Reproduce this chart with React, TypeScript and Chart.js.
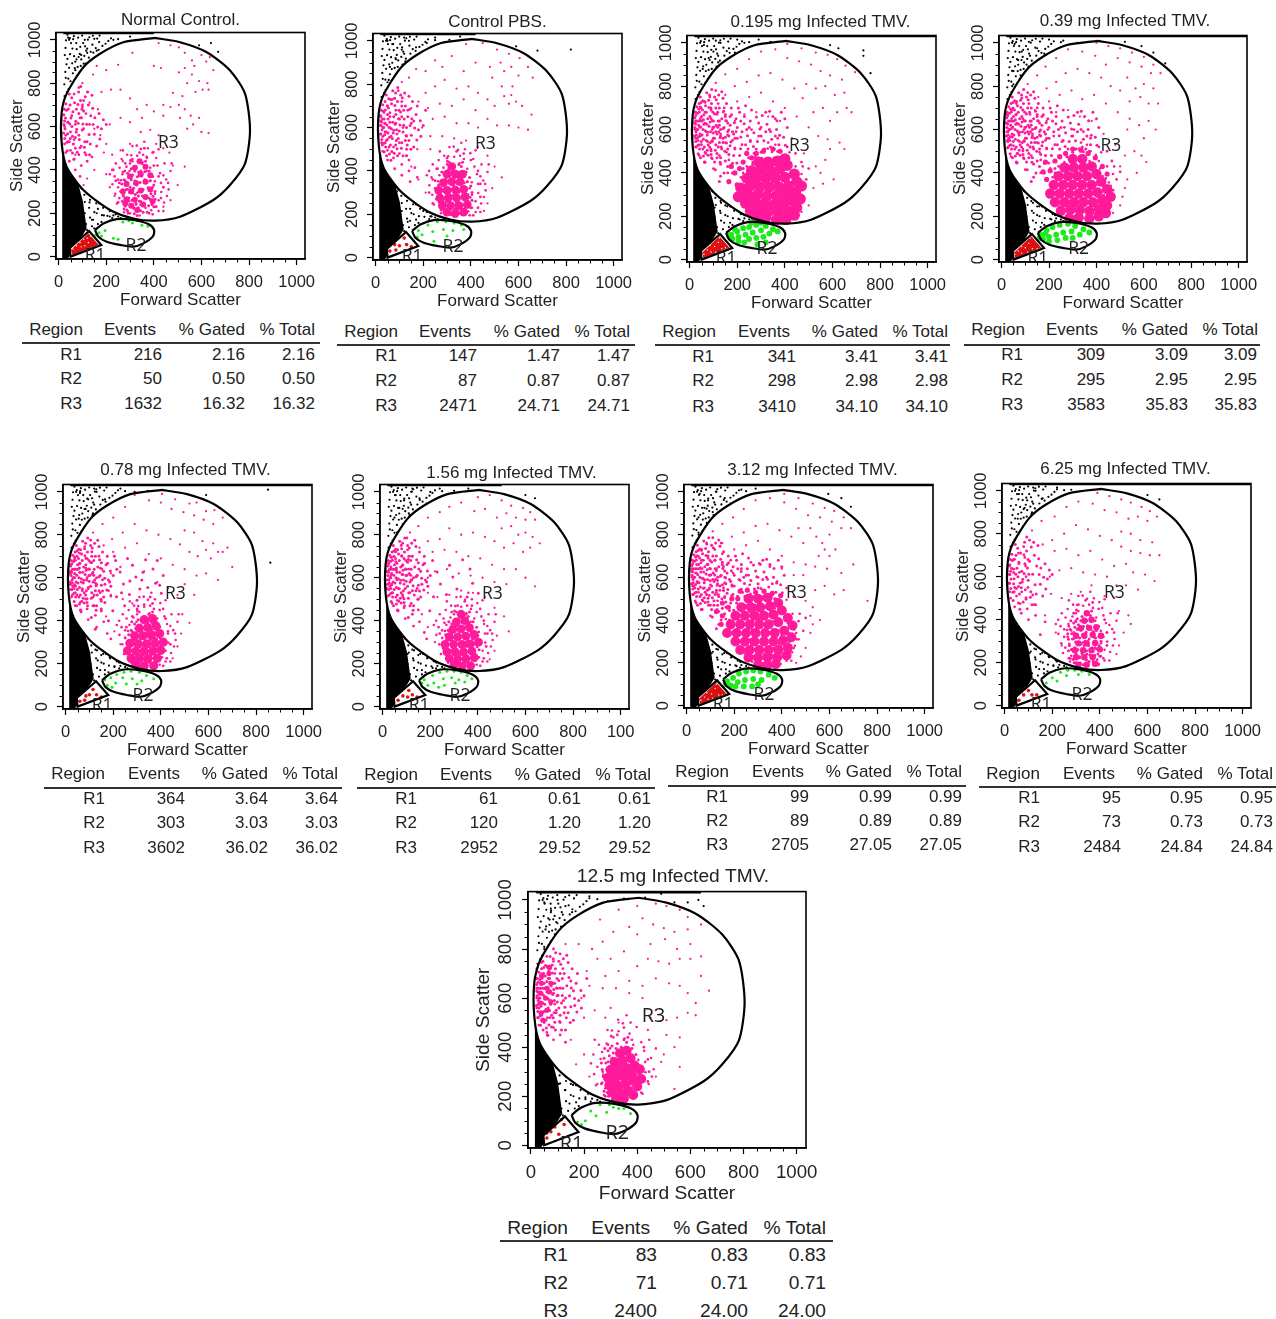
import React, { useEffect, useRef } from "react";
import { Chart, registerables } from "chart.js";
Chart.register(...registerables);

const FONT = '"Liberation Sans", Arial, sans-serif';
const TITLES = ["Normal Control.", "Control PBS.", "0.195 mg Infected TMV.", "0.39 mg Infected TMV.", "0.78 mg Infected TMV.", "1.56 mg Infected TMV.", "3.12 mg Infected TMV.", "6.25 mg Infected TMV.", "12.5 mg Infected TMV."];
const X_TICKS = [0, 200, 400, 600, 800, 1000];
const Y_TICKS = [0, 200, 400, 600, 800, 1000];
const MINOR_TICKS = [50, 100, 150, 250, 300, 350, 450, 500, 550, 650, 700, 750, 850, 900, 950];
const TABLE_HEADERS = ["Region", "Events", "% Gated", "% Total"];
const REGIONS = ["R1", "R2", "R3"];
const EVENTS = [[216, 50, 1632], [147, 87, 2471], [341, 298, 3410], [309, 295, 3583], [364, 303, 3602], [61, 120, 2952], [99, 89, 2705], [95, 73, 2484], [83, 71, 2400]];
const PERCENT = [["2.16", "0.50", "16.32"], ["1.47", "0.87", "24.71"], ["3.41", "2.98", "34.10"], ["3.09", "2.95", "35.83"], ["3.64", "3.03", "36.02"], ["0.61", "1.20", "29.52"], ["0.99", "0.89", "27.05"], ["0.95", "0.73", "24.84"], ["0.83", "0.71", "24.00"]];

// Gate outlines, [x, y] in scale units.
const GATE_R1 = [47, 40, 128, 118, 179, 54, 50, 0, 47, 40];
const GATE_R2 = [153, 123, 188, 153, 244, 173, 314, 169, 377, 150, 401, 123, 395, 92, 356, 61, 314, 46, 258, 54, 202, 69, 167, 92, 153, 123];
const GATE_R3 = [405, 1009, 510, 989, 622, 943, 720, 859, 783, 752, 804, 583, 783, 429, 720, 330, 650, 261, 510, 184, 405, 166, 314, 176, 216, 215, 104, 307, 34, 414, 13, 521, 13, 667, 34, 752, 104, 874, 174, 936, 272, 989, 405, 1009];
const REGION_LABEL_POS = [153, 3, 325, 49, 461, 525];
const BLACK_AREA = [15, -10, 15, 480, 40, 445, 60, 385, 85, 325, 102, 255, 118, 130, 62, 30, 38, -10, 15, -10];
const RED_AREA = [52, 32, 125, 108, 168, 55, 58, 8, 52, 32];

// Scatter clouds: hand-estimated samples of each dot cloud, far fewer than the events counted.
// Shared lists hold the populations that look alike across panels; each panel shows as many as its density calls for.
const BLACK_UPPER = [37,912,142,978,88,846,61,1003,171,931,24,795,113,891,53,768,129,1012,76,957,98,803,44,871,156,962,31,998,84,921,119,836,67,815,195,948,103,985,48,934,138,905,28,852,72,781,162,1006,91,968,57,892,108,926,35,759,146,941,80,875,64,1017,184,972,41,821,123,1001,95,910,52,985,178,904,26,930,134,864,70,899,209,995,86,792,47,1008,116,950,152,887,60,846,99,1020,33,887,127,918,74,985,168,954,42,773,105,858,89,935,58,960,144,1019,220,1007,77,833,37,1024,111,970,197,982,65,925,130,890,50,809,82,1010,156,910,29,963,93,880,120,940,44,1000,172,1020,68,870,100,780,55,725,40,700,25,740,250,1003,75,745,140,850,160,870,85,750,95,825,115,815,62,790,30,825];
const BLACK_LOWER = [112,402,75,438,148,352,205,228,96,315,132,262,182,191,64,395,240,204,120,348,158,246,105,198,270,190,88,372,141,295,195,262,78,281,225,178,167,305,110,252,132,180,90,220,150,205,62,460,118,305,175,268,205,188,100,160,140,140,120,122,85,150,70,130,165,150,250,185,295,183,187,225,128,225,152,275,108,285,72,340,100,410,135,330,160,200,215,210,180,160,145,170,115,150,95,125,75,105,55,340,50,380,40,440,32,480,60,505,230,190,260,178,170,245,155,320,125,375,90,440,28,540];
const PINK_LEFT = [47,612,128,563,22,655,81,702,164,598,35,528,96,641,58,478,143,684,27,590,112,738,70,549,188,631,41,681,90,502,55,733,133,520,25,626,76,588,152,641,38,567,105,672,64,449,173,543,30,705,118,611,84,760,49,545,140,745,21,570,99,584,60,668,125,700,36,489,160,510,72,625,110,530,45,750,87,540,29,640,135,650,56,600,180,590,93,785,23,610,115,470,67,710,150,565,40,530,78,482,200,610,52,640,102,612,33,675,122,760,85,660,62,520,145,610,26,545,92,720,48,700,170,660,74,575,108,505,38,620,130,470,58,555,98,680,24,680,82,615,155,720,44,580,120,640,68,490,190,560,31,600,105,750,54,690,140,540,76,650,42,510,88,590,210,680,63,730,115,580,28,520,95,550,50,660,130,600,36,640,72,770,160,630,84,520,46,470,110,700,22,630,66,595,125,540,40,720,100,640,56,510,148,500,30,560,80,735,175,700,60,625,118,680,34,600,92,470,52,575,135,775,70,680,44,640,105,560,26,665,86,635,150,670,62,450,98,610,38,695,78,530,122,590,48,725,165,570,28,575,90,690,58,645,112,620,74,505,35,550];
const PINK_LOW = [262,352,431,298,305,468,389,214,238,290,452,356,346,497,280,232,415,420,226,334,371,455,298,395,443,250,256,410,328,512,404,348,272,288,462,310,315,222,380,270,245,245,426,385,352,435,288,470,398,482,268,380,340,190,420,210,235,370,470,395,310,440,445,430,360,530,285,415,405,290,250,320,375,500,330,465,455,280,295,255,385,410,275,205,430,340,320,350,240,430,410,455,350,300,265,450,395,320,300,200,460,340,335,390,280,350,365,225,420,260,255,270,440,210,310,510,385,350,225,400,345,255,290,310,475,430,370,395,405,230,270,490,330,295,420,495,355,470,250,355,300,430,395,195,440,375,325,240,215,380,480,350];
const PINK_WIDE = [214,512,367,641,128,449,295,603,176,668,402,528,243,571,155,538,336,684,108,415,268,522,198,446,378,574,141,605,312,548,229,627,90,485,355,510,185,580,281,658,125,360,410,610,248,470,165,485,325,625,205,700,385,680,120,520,270,585,345,555,180,400,235,530,300,495,150,455,395,565,215,640,260,690,130,570,320,590,190,515,365,600,105,450,285,545,225,420,170,620,340,520,250,610,145,400,305,665,200,560,375,530,115,490,275,475,160,575,330,460,235,710,95,545,290,630,180,445,350,660,210,480,255,545,135,510,315,510,195,650,400,650,170,525,240,600,300,570,125,640,265,440,220,590,360,570,150,660,335,600,185,480,280,510,110,590,245,510,205,420,320,680,160,430,370,500,230,660,290,450,140,560,255,640];
const PINK_CORE_DOTS = [322,287,358,236,291,341,376,318,305,405,344,212,283,262,397,279,331,368,268,309,362,392,315,228,385,350,298,296,350,430,275,355,339,255,405,300,310,376,368,270,287,215,328,330,392,240,302,445,355,310,272,280,345,395,318,198,380,395,295,365,335,225,400,330,285,310,362,355,308,260,372,205,342,342,278,395,388,290,325,415,300,240,352,280,268,255,395,370,315,315,365,440,292,200,338,300,378,235,282,335,348,372,305,355,385,265,330,190,360,420,295,270,320,395,405,265,275,220,345,240,310,295,372,345,290,385,335,280,355,205,400,230,300,320,325,245,382,315,265,335,315,350,368,300];

const P1_BLACK = [120,960,95,930,135,945,160,950,185,925,75,910,105,890,70,860,60,800,90,830,55,740,65,720,230,1000,300,1015,345,1000,590,975,640,985,670,945,110,1000,150,1005,40,1010,170,990,110,420,60,430,45,400,130,380,85,350,150,320,120,290,180,260,165,220,200,235,240,195,260,230,290,185,140,170,190,190,110,200,130,250,150,130,215,185];
const P1_PINK = [420,985,470,975,505,965,530,940,560,905,600,930,635,920,620,900,650,860,570,880,530,870,505,850,560,840,590,810,540,800,625,800,605,770,630,770,575,760,520,740,480,755,505,700,470,690,440,700,530,680,555,650,590,640,510,640,565,610,600,575,630,570,540,590,400,880,430,870,310,940,250,885,200,860,160,880,145,840,100,800,120,760,180,760,220,770,260,770,300,730,330,680,370,700,400,670,440,650,350,640,300,620,260,640,215,610,175,560,200,520,190,480,225,470,260,490,270,440,300,520,345,575,385,585,420,560,410,520,440,500,465,480,480,420,530,415,500,330,470,260,440,230,215,320,235,280,200,380,150,400,120,360,105,330,165,680,130,710,95,640,150,590,70,470];
const P1_BAND = [25,600,40,620,55,650,75,680,100,700,30,560,50,575,70,610,90,640,115,660,25,520,45,530,65,540,85,560,105,590,130,610,30,480,50,490,70,500,95,510,120,530,45,440,65,450,85,470,110,480,70,400,95,420,120,440,140,460,90,370,100,690,65,750,85,780,105,720,260,300,240,350,270,390,230,400,250,250,290,210,380,200,410,230,430,270,440,320,420,370,400,420,370,460,340,480,310,450,360,500,395,480,255,340,280,430];
const P1_CORE = [330,215,305,235,355,240,285,265,320,262,365,275,270,300,305,300,345,305,385,310,285,335,325,340,365,345,300,370,345,380,385,375,320,410,365,415,340,440,280,245,395,255];
const P1_GREEN = [270,160,295,165,310,155,330,165,350,145,375,140,195,120,170,110,155,100,180,95,230,85,250,80];
const P1_RED = [60,35,75,50,90,65,105,80,120,85,95,45,125,65,135,95,110,50];
const P2_BLACK = [70,985,110,960,140,1000,170,970,195,945,85,915,125,905,60,880,95,860,55,820,75,780,45,760,250,1015,310,1005,355,1020,590,975,680,955,820,960,120,1015,215,990,50,1000,40,440,75,405,110,380,145,345,175,285,125,285,200,215,235,190,285,185,170,175,135,165,110,215,90,305,145,225];
const P2_PINK = [380,985,450,990,510,960,560,940,605,920,570,880,525,900,640,880,660,830,600,840,540,860,480,880,420,900,370,860,320,930,280,880,250,910,210,860,170,870,140,830,110,810,490,830,530,790,575,790,540,745,570,750,590,720,560,710,615,700,655,660,500,700,470,730,430,760,390,790,340,780,290,820,250,790,210,760,180,720,150,690,220,690,270,710,320,700,370,730,420,680,470,640,510,610,560,610,600,600,640,590,430,600,390,620,340,620,290,650,240,640,195,600,230,560,280,560,330,550,380,540,430,510,470,470,500,420,530,370,490,320,470,250,455,215,210,300,180,360,150,420,130,470,175,500,230,500];
const P2_BAND = [22,650,35,670,50,700,70,730,95,770,22,610,40,620,60,650,85,680,110,720,22,570,40,580,60,600,85,620,110,650,135,680,25,530,45,540,65,560,90,570,115,600,150,620,30,490,50,495,75,510,100,530,130,560,50,450,75,460,100,480,130,500,80,410,110,430,140,450,110,380,140,400,165,415,145,350,175,370,240,250,225,300,240,360,260,410,300,460,340,490,370,480,400,450,430,400,440,340,440,280,430,230,410,195];
const P2_CORE = [300,210,335,205,370,210,280,240,315,240,350,240,385,245,270,275,305,275,340,275,375,280,265,310,300,310,335,312,370,315,285,345,320,350,355,350,300,385,335,385,365,385,320,420];
const P2_GREEN = [220,150,260,165,295,165,330,160,360,150,240,120,285,130,325,125,195,105,180,125,175,95,245,75,300,100,370,130];
const P2_RED = [60,30,85,35,80,60,100,55,120,90,130,60,150,50];
const P3_BLACK = [60,990,100,960,130,1000,165,975,190,955,80,930,120,910,55,880,95,860,70,800,45,760,40,720,230,1000,290,1015,340,1005,590,990,625,975,730,965,730,940,700,880,760,860,110,1010,200,1015,25,560,30,500,60,455,90,410,125,370,160,300,130,270,190,235,230,205,260,250,285,195,170,170,130,215,105,240,150,250,210,185];
const P3_PINK = [410,995,470,975,530,955,580,945,620,925,655,895,695,865,640,830,590,850,550,870,510,900,460,915,410,930,360,970,300,960,250,925,200,880,150,855,110,815,490,810,530,790,570,800,610,760,650,770,660,700,620,680,590,640,560,700,520,680,475,745,440,790,390,830,340,860,290,850,240,820,190,800,150,760,200,730,250,750,300,770,350,730,400,700,450,660,500,610,540,570,580,555,630,540,650,510,680,680,590,510,570,460,550,400,560,350,605,370,520,330,500,250,470,220,530,430,480,490,430,560,380,640,330,660,280,680,230,670,190,640,140,680];
const P3_BAND = [25,680,45,705,65,725,85,750,110,780,25,640,45,650,65,680,90,700,120,720,22,600,42,610,65,630,90,650,115,670,145,700,25,560,45,570,70,590,95,600,125,620,155,640,25,520,50,530,75,545,100,560,130,580,160,590,195,590,40,480,65,495,90,510,120,520,150,540,180,550,215,565,260,600,300,610,340,590,360,650,65,450,95,465,125,480,155,495,190,510,220,530,255,550,290,570,330,540,370,560,410,520,445,490,470,450,100,420,130,440,165,460,130,385,160,400,450,280,465,320,490,370,500,420];
const P3_CORE = [280,195,320,195,365,185,405,185,440,205,255,225,295,230,335,225,375,220,415,225,450,240,235,260,275,265,315,260,355,255,395,260,435,270,465,280,205,290,245,300,285,300,325,295,365,295,405,300,445,310,470,340,215,330,255,340,295,335,335,335,375,335,415,340,450,360,240,375,280,375,320,375,360,375,400,380,440,395,260,410,300,415,340,410,380,420,410,435,290,450,330,450,370,455,400,465];
const P3_CORE_SMALL = [190,400,165,360,200,345,175,430,210,420,225,450,260,470,240,490,280,490,310,500,350,510,380,500];
const P3_GREEN = [175,115,200,130,225,145,250,150,280,160,320,155,350,140,180,95,205,105,235,115,265,125,300,135,335,120,205,85,230,80,250,95,280,100,310,105,165,110,190,140,260,170,300,170,370,130,285,70,320,80];
const P3_RED = [60,25,75,45,90,35,105,60,120,80,135,50,150,55,85,65,110,35,60,50,125,100];
const P4_BLACK = [55,995,85,960,115,1005,150,975,180,950,70,920,105,900,50,870,80,850,45,800,65,770,200,1015,260,1010,320,1000,520,1005,590,985,640,955,690,905,30,470,60,430,90,400,120,365,155,310,125,270,190,235,225,205,255,245,280,190,170,170,135,215,100,240,150,245,210,185];
const P4_PINK = [400,1000,450,985,500,975,550,955,600,935,640,900,670,860,630,860,590,890,540,910,490,930,440,900,395,940,340,960,280,970,230,930,185,890,150,850,110,810,530,840,565,790,600,810,640,790,660,720,620,720,585,750,540,730,500,780,460,800,420,840,370,860,320,880,270,860,230,820,190,790,155,750,200,730,245,760,295,780,340,740,390,760,440,720,490,680,540,650,530,600,580,620,620,640,650,600,600,560,560,500,590,480,570,400,530,370,520,330,510,290,500,250,470,215,500,430,520,480,480,530,430,580,380,640,330,660,280,690,230,680,190,640,140,690,610,450];
const P4_BAND = [22,670,42,690,62,720,85,745,110,770,22,630,42,650,62,670,90,690,115,720,22,590,42,605,65,630,90,650,120,670,150,700,25,550,45,565,70,585,95,600,125,620,155,640,25,515,50,525,75,545,100,560,130,580,160,590,195,600,40,475,65,490,90,510,120,520,150,540,185,550,220,570,265,610,305,600,345,590,65,445,95,465,125,480,160,495,190,510,225,530,260,550,295,570,335,540,375,560,410,520,445,500,465,455,100,415,135,440,165,460,135,380,165,400,460,280,470,320,485,370,500,405];
const P4_CORE = [285,190,325,195,370,190,410,200,440,215,250,225,290,230,330,230,370,225,410,235,445,250,225,265,265,265,305,265,345,265,385,265,425,275,460,290,205,305,245,305,285,305,325,305,365,305,405,310,445,325,220,345,260,345,300,345,340,345,380,345,420,360,240,385,280,385,320,385,360,385,400,395,265,425,305,425,345,425,380,430,300,465,340,465];
const P4_CORE_SMALL = [190,370,175,405,205,410,185,450,225,455,245,475,270,490,300,510,335,505,365,490,395,470,425,430,445,395];
const P4_GREEN = [165,115,190,135,215,150,245,160,280,165,310,155,345,140,175,95,200,105,230,115,260,125,295,130,330,115,200,85,235,90,270,100,300,100,160,100,185,120,370,125];
const P4_RED = [55,25,70,40,85,30,100,55,115,75,130,50,150,50,85,60,110,35,60,55,120,100];
const P5_BLACK = [60,995,95,965,130,1000,165,965,190,940,80,920,115,900,55,875,90,850,60,800,45,760,85,790,230,1015,290,1000,345,1005,590,985,850,1010,860,670,120,1015,30,450,60,420,95,395,125,355,155,300,125,265,185,230,225,205,260,240,280,190,165,170,135,215,100,245,150,240,205,185];
const P5_PINK = [405,990,460,965,520,945,550,950,590,910,625,915,660,880,620,850,580,870,540,890,495,905,445,920,400,950,350,960,290,985,250,930,200,880,155,850,115,810,500,820,540,810,575,770,620,760,660,720,700,650,680,740,640,720,610,690,590,730,555,700,520,720,480,755,440,780,390,800,340,820,290,850,240,810,195,780,160,750,200,720,250,740,300,760,350,710,400,690,450,660,500,640,550,610,590,620,640,590,500,570,540,520,470,520,430,550,385,580,330,630,280,660,230,650,190,620,190,520,240,500,280,480,490,430,520,390,485,340,470,280,450,225,230,290,205,350,170,420];
const P5_BAND = [20,660,38,685,58,715,80,745,105,775,20,620,38,640,58,665,85,690,110,720,20,580,38,600,60,625,85,645,110,670,140,700,22,545,42,560,65,580,90,600,115,625,145,645,25,510,48,520,70,540,95,555,125,575,155,590,40,470,62,485,85,500,115,510,145,530,180,540,65,440,90,455,120,470,150,490,95,405,125,425,150,445,130,370,160,395,175,340,190,315,260,270,250,320,255,370,280,420,300,455,330,475,365,480,395,450,420,410,430,350,440,290,425,225,410,190];
const P5_CORE = [295,195,330,190,370,190,275,225,310,225,345,222,385,225,260,260,295,258,330,258,365,258,400,262,270,295,305,292,340,292,375,295,410,300,290,330,325,330,360,332,395,340,310,365,345,368,380,375,330,405,365,410];
const P5_GREEN = [165,125,190,135,215,150,245,160,275,165,310,160,340,145,370,130,240,135,280,130,320,120,210,110,255,105,300,105,175,100,195,90];
const P5_RED = [60,25,80,30,100,55,85,50,130,55,150,45,115,80];
const P6_BLACK = [55,985,90,960,120,1000,155,970,185,945,70,925,110,900,50,880,85,850,60,810,45,760,240,1015,300,1005,360,1015,600,985,640,970,125,1015,200,1000,30,440,65,410,100,380,130,350,160,295,125,265,190,230,225,205,255,245,275,190,165,170,130,215,105,245,150,240,210,180];
const P6_PINK = [400,975,450,985,500,960,540,935,590,925,620,905,640,870,600,870,560,880,520,900,480,880,430,920,385,910,330,950,280,930,240,905,190,880,150,840,115,810,500,830,540,840,570,800,600,810,630,790,660,760,620,740,590,720,550,760,510,740,470,770,430,790,380,810,330,800,280,830,240,780,190,770,155,740,210,720,260,730,310,720,360,700,410,690,460,660,510,640,560,640,600,600,640,560,520,570,470,580,420,600,370,610,320,620,270,640,220,630,190,600,190,530,230,510,280,520,330,540,380,530,430,510,470,460,510,420,530,350,480,330,470,260,450,220,220,300,190,370,165,430,120,700];
const P6_BAND = [18,670,35,695,55,720,78,750,102,785,18,630,35,650,55,675,80,700,105,730,18,590,35,610,58,635,82,655,108,685,18,550,38,570,60,590,85,615,110,640,22,515,42,530,65,550,90,570,120,590,145,610,40,480,62,495,85,510,115,530,145,550,65,445,90,460,120,480,150,500,95,410,125,430,150,450,130,375,155,395,175,345,185,315,255,280,240,340,260,390,290,440,315,470,345,490,375,470,395,440,425,400,440,340,435,280,425,225,410,190];
const P6_CORE = [300,195,335,190,370,190,280,225,315,222,350,222,385,228,270,255,305,255,340,255,375,258,262,290,298,290,333,290,368,292,403,300,280,325,315,325,350,328,385,335,295,360,330,362,365,368,310,395,345,400,330,430];
const P6_GREEN = [175,125,210,145,240,160,270,165,300,165,330,160,355,145,375,130,255,130,290,135,320,125,215,110,260,100,305,110,190,100,165,110,345,115,235,90];
const P6_RED = [65,30,85,50,105,45,125,55,145,45,110,75];
const P7_BLACK = [55,990,90,960,125,1000,160,970,185,945,75,925,110,905,50,880,85,855,50,800,70,770,230,1010,290,1015,340,1000,595,990,650,970,690,930,30,450,60,420,95,395,125,355,155,300,125,265,190,230,225,205,260,245,280,190,165,170,130,215,105,245,150,240,210,185];
const P7_PINK = [410,990,470,970,530,945,580,925,620,910,660,880,690,830,650,830,610,860,560,880,510,890,460,920,410,950,350,970,290,960,240,920,195,880,150,850,110,815,470,830,520,830,545,790,570,760,600,800,580,730,555,700,600,700,625,730,540,650,590,640,650,620,700,660,660,540,620,520,580,560,540,540,490,760,440,790,390,820,340,850,290,840,240,810,190,790,150,760,200,730,250,750,300,770,350,730,400,700,450,670,500,660,490,610,450,610,400,640,500,490,530,460,560,400,530,380,520,340,500,270,480,230,460,200,760,490,520,420];
const P7_BAND = [22,680,42,700,62,725,85,755,110,785,22,640,42,660,62,680,90,700,118,730,145,760,22,600,42,620,65,640,90,660,120,680,150,710,25,560,45,575,70,595,95,610,125,630,155,650,185,680,25,520,50,530,75,550,100,565,130,585,160,600,195,620,230,640,270,670,310,660,350,650,40,480,65,495,95,515,125,530,155,550,190,565,225,585,260,610,300,600,340,590,380,580,420,550,65,450,100,470,130,490,160,505,195,520,230,545,265,565,300,550,450,510,100,420,135,440,165,460,135,380,165,405,450,270,470,310,490,350,500,410];
const P7_CORE = [300,190,340,190,375,195,260,225,300,225,340,225,380,225,420,235,225,260,265,260,305,260,345,260,385,260,425,270,205,300,245,300,285,300,325,300,365,300,405,305,440,320,170,340,210,340,250,340,290,340,330,340,370,340,410,350,445,375,185,380,225,380,265,380,305,380,345,380,385,390,425,410,205,420,245,420,285,420,325,420,365,425,400,445,230,460,270,460,310,460,350,465,385,480,260,500,300,500,340,505];
const P7_CORE_SMALL = [150,420,175,460,150,480,190,500,215,500,225,535,255,540,290,530,325,535,360,525,395,515,125,440,145,380];
const P7_GREEN = [170,115,195,130,220,150,250,160,280,165,310,160,345,145,370,130,185,95,215,110,245,120,280,125,315,120,205,90,240,90,275,90,165,100,300,100];
const P7_RED = [60,25,75,40,90,30,105,55,120,80,135,50,150,50,85,60,110,35,60,50,125,100];
const P8_BLACK = [60,985,95,955,130,1000,160,965,190,940,80,915,115,900,55,870,90,845,60,800,45,760,220,1015,280,1005,340,1000,600,980,650,960,120,1015,30,440,60,420,95,390,125,350,155,295,125,265,185,230,220,205,255,240,280,190,165,170,130,215,105,245,150,240,205,185];
const P8_PINK = [390,990,440,975,490,960,530,945,575,925,610,905,640,880,600,860,560,880,520,870,470,900,420,910,370,940,310,950,260,925,210,880,155,860,115,815,490,810,530,800,570,770,620,760,650,700,610,700,570,710,530,720,490,740,450,770,400,790,350,820,300,840,250,800,200,770,160,750,210,720,260,730,310,700,360,720,410,680,460,650,510,660,540,620,590,610,630,580,560,540,510,560,470,560,430,600,380,610,330,620,280,640,230,630,190,600,195,520,240,500,280,520,320,530,365,560,420,510,460,500,480,440,520,420,500,340,480,280,470,240,240,280,215,340,170,420,530,380];
const P8_BAND = [20,650,38,680,58,710,80,740,105,770,20,610,38,635,60,660,85,690,20,570,40,590,62,620,88,650,22,530,42,550,65,570,90,600,25,500,50,510,72,530,98,550,42,460,65,475,90,495,118,515,70,430,95,450,125,470,100,400,130,420,150,330,170,390,280,260,265,320,270,370,290,430,310,470,340,490,370,480,395,450,420,400,430,340,430,280,415,220,395,190,300,390,270,220,415,320];
const P8_CORE = [310,190,345,190,380,195,300,225,335,225,370,225,295,258,330,258,365,258,400,262,310,290,345,290,380,292,300,325,335,325,370,330,405,325,320,360,355,362,385,365,335,395,365,400,345,430];
const P8_GREEN = [200,130,235,155,265,165,295,165,325,160,355,145,310,145,260,140,220,115,175,105];
const P8_RED = [60,25,80,50,100,70,115,50,135,50];
const P9_BLACK = [50,990,75,965,100,1000,130,975,155,950,175,925,70,920,100,905,55,880,90,860,125,880,150,860,50,800,75,830,100,800,60,760,85,745,45,720,75,950,220,1015,290,995,350,1005,430,1010,490,1025,540,990,590,990,630,1000,650,975,40,460,75,440,105,400,130,370,165,310,130,280,190,240,225,210,260,260,285,200,170,175,130,225,105,250,150,250,205,195,120,330,100,180];
const P9_PINK = [260,920,330,960,400,975,470,985,510,975,560,960,590,930,640,900,590,880,540,870,500,885,460,900,420,925,370,890,310,870,270,830,230,800,180,820,130,820,400,860,450,820,505,840,550,800,600,820,640,770,600,760,560,760,520,740,480,750,440,760,400,730,350,790,300,760,250,760,210,710,280,690,330,710,370,670,420,650,470,680,520,660,560,650,590,620,640,690,670,630,620,580,590,540,620,530,550,520,510,510,470,550,420,600,370,620,320,640,270,640,220,650,190,600,200,520,240,550,280,520,330,500,300,560,450,520,440,470,510,450,560,440,540,400,500,370,490,340,560,320,470,280,540,230,220,280,250,250,200,370,170,330,150,430,290,230];
const P9_BAND = [22,720,40,745,60,770,85,800,22,680,42,700,62,725,85,750,110,780,22,640,42,660,65,680,90,700,120,720,22,600,42,620,65,640,90,660,22,560,42,580,62,600,85,620,110,640,25,520,45,540,65,560,90,575,30,490,50,500,72,520,95,540,60,460,85,480,110,500,85,430,110,450,130,420,350,480,325,450,380,430,340,400,290,410,425,400,440,350,445,300,440,260,415,215,385,190,345,185,280,200,265,250,270,300];
const P9_CORE = [320,190,350,190,385,205,305,215,335,215,368,220,400,240,295,245,325,245,355,248,385,262,415,270,290,275,320,278,350,280,380,290,410,310,300,308,330,310,360,315,390,325,315,340,345,345,375,355,335,375,360,385];
const P9_BAND_CORE = [40,690,68,700,40,660,75,660,35,620,70,625,35,580,75,585,60,550,38,540,70,725,60,640,55,600,45,510];
const P9_GREEN = [225,140,260,165,295,165,310,155,330,150,350,150,375,130,205,100,190,85,245,120,175,95,285,135];
const P9_RED = [60,30,60,50,75,55,90,75,105,45,115,105,125,85];
const TOP_EDGE_ENDS = [400, 420, 1035, 1035, 1035, 500, 1035, 1035, 640];
const P6_X_LABELS = ["0", "200", "400", "600", "800", "100"];
const DEFAULT_X_LABELS = ["0", "200", "400", "600", "800", "1000"];
// How many pairs of each shared list a panel shows: black upper, black lower, pink left, pink low, pink wide, core dots.
const SHARED_COUNTS = [[85, 60, 70, 75, 0, 70], [85, 60, 110, 75, 0, 70], [85, 60, 150, 75, 95, 0], [85, 60, 150, 75, 95, 0], [85, 60, 130, 75, 40, 70], [85, 60, 130, 75, 20, 70], [85, 60, 150, 75, 95, 40], [85, 60, 70, 75, 0, 70], [85, 60, 125, 45, 0, 70]];

const xy = (a: number[]) => { const o: { x: number; y: number }[] = []; for (let i = 0; i < a.length; i += 2) o.push({ x: a[i], y: a[i + 1] }); return o; };

type P = { l: number; t: number; w: number; h: number; f: number; dx: number; gap: number; coreR: number; sets: number[][]; heads: number[]; vals: number[]; rule: number[]; rows: number[]; regionRight: number };
const EMPTY: number[] = [];
const LAYOUT: P[] = [
  { l: 56, t: 32, w: 249, h: 227, f: 1, dx: 0, gap: 12, coreR: 3, sets: [P1_BLACK, P1_PINK, P1_BAND, P1_CORE, EMPTY, P1_GREEN, P1_RED], heads: [83, 156, 245, 315], vals: [162, 245, 315], rule: [22, 320, 343], rows: [329, 354, 378, 403], regionRight: 82 },
  { l: 373, t: 33, w: 249, h: 227, f: 1, dx: 0, gap: 11, coreR: 4.4, sets: [P2_BLACK, P2_PINK, P2_BAND, P2_CORE, EMPTY, P2_GREEN, P2_RED], heads: [398, 471, 560, 630], vals: [477, 560, 630], rule: [337, 635, 345], rows: [331, 355, 380, 405], regionRight: 397 },
  { l: 687, t: 35, w: 249, h: 227, f: 1, dx: 9, gap: 13, coreR: 5.6, sets: [P3_BLACK, P3_PINK, P3_BAND, P3_CORE, P3_CORE_SMALL, P3_GREEN, P3_RED], heads: [716, 790, 878, 948], vals: [796, 878, 948], rule: [655, 950, 345], rows: [331, 356, 380, 406], regionRight: 714 },
  { l: 999, t: 35, w: 248, h: 227, f: 1, dx: 2, gap: 14, coreR: 5.2, sets: [P4_BLACK, P4_PINK, P4_BAND, P4_CORE, P4_CORE_SMALL, P4_GREEN, P4_RED], heads: [1025, 1098, 1188, 1258], vals: [1105, 1188, 1257], rule: [964, 1260, 345], rows: [329, 354, 379, 404], regionRight: 1023 },
  { l: 63, t: 484, w: 249, h: 225, f: 1, dx: -2, gap: 14, coreR: 4.6, sets: [P5_BLACK, P5_PINK, P5_BAND, P5_CORE, EMPTY, P5_GREEN, P5_RED], heads: [105, 180, 268, 338], vals: [185, 268, 338], rule: [44, 342, 788], rows: [773, 798, 822, 847], regionRight: 105 },
  { l: 380, t: 484, w: 249, h: 225, f: 1, dx: 7, gap: 11, coreR: 4.4, sets: [P6_BLACK, P6_PINK, P6_BAND, P6_CORE, EMPTY, P6_GREEN, P6_RED], heads: [418, 492, 581, 651], vals: [498, 581, 651], rule: [357, 655, 788], rows: [774, 798, 822, 847], regionRight: 417 },
  { l: 684, t: 484, w: 249, h: 224, f: 1, dx: 4, gap: 14, coreR: 5, sets: [P7_BLACK, P7_PINK, P7_BAND, P7_CORE, P7_CORE_SMALL, P7_GREEN, P7_RED], heads: [729, 804, 892, 962], vals: [809, 892, 962], rule: [668, 966, 786], rows: [771, 796, 820, 844], regionRight: 728 },
  { l: 1002, t: 483, w: 249, h: 225, f: 1, dx: -1, gap: 14, coreR: 3.2, sets: [P8_BLACK, P8_PINK, P8_BAND, P8_CORE, EMPTY, P8_GREEN, P8_RED], heads: [1040, 1115, 1203, 1273], vals: [1121, 1203, 1273], rule: [979, 1276, 787], rows: [773, 797, 821, 846], regionRight: 1040 },
  { l: 528, t: 892, w: 278, h: 257, f: 1.13, dx: 6, gap: 15, coreR: 5, sets: [P9_BLACK, P9_PINK, P9_BAND, P9_CORE, P9_BAND_CORE, P9_GREEN, P9_RED], heads: [568, 650, 748, 826], vals: [657, 748, 826], rule: [500, 833, 1241], rows: [1227, 1254, 1282, 1310], regionRight: 568 },
];

const PINK = "#ff1a9c";
const scatterSet = (label: string, data: number[], color: string, r: number, order: number) => ({ type: "scatter", label, data: xy(data), backgroundColor: color, borderWidth: 0, pointRadius: r, pointHoverRadius: r, showLine: false, order });
const gateSet = (label: string, data: number[], order: number, tension: number) => ({ type: "scatter", label, data: xy(data), showLine: true, fill: false, borderColor: "#000", borderWidth: 2.2, tension, pointRadius: 0, order });
const areaSet = (label: string, data: number[], color: string, order: number, tension: number) => ({ type: "scatter", label, data: xy(data), showLine: true, fill: "shape", backgroundColor: color, borderWidth: 0, tension, pointRadius: 0, order });

function Panel({ index }: { index: number }) {
  const ref = useRef<HTMLCanvasElement>(null);
  const p = LAYOUT[index];
  const ML = Math.round(60 * p.f);
  const MR = ML + 2 * p.dx;
  const XH = Math.round(55 * p.f);
  const titleSize = 17 * p.f;
  const tickSize = 16.5 * p.f;
  const TH = titleSize / 2 + p.gap;
  useEffect(() => {
    const [black, pink, band, core, coreSmall, green, red] = p.sets;
    const counts = SHARED_COUNTS[index];
    const labels = index === 5 ? P6_X_LABELS : DEFAULT_X_LABELS;
    const denseRed = index === 0 || index === 2 || index === 3 || index === 6;
    const denseGreen = index === 2 || index === 3 || index === 6;
    const plugin = {
      id: "panelDecor",
      afterDatasetsDraw(chart: any) {
        const { ctx, chartArea: a, scales } = chart;
        ctx.save();
        ctx.beginPath(); ctx.rect(a.left, a.top, a.width, a.height); ctx.clip();
        ctx.fillStyle = "#222";
        ctx.font = `${17.5 * p.f}px "Open Sans", sans-serif`;
        ctx.textAlign = "center"; ctx.textBaseline = "middle";
        REGIONS.forEach((name, i) => ctx.fillText(name, scales.x.getPixelForValue(REGION_LABEL_POS[i * 2]), scales.y.getPixelForValue(REGION_LABEL_POS[i * 2 + 1])));
        ctx.restore();
        ctx.save();
        ctx.strokeStyle = "#000"; ctx.lineWidth = 1.6;
        ctx.strokeRect(a.left, a.top, a.width, a.height);
        ctx.lineWidth = 1; ctx.beginPath();
        MINOR_TICKS.forEach((v) => {
          const px = Math.round(scales.x.getPixelForValue(v)) + 0.5;
          ctx.moveTo(px, a.bottom); ctx.lineTo(px, a.bottom + 3.5);
          const py = Math.round(scales.y.getPixelForValue(v)) + 0.5;
          ctx.moveTo(a.left, py); ctx.lineTo(a.left - 3.5, py);
        });
        ctx.stroke();
        ctx.restore();
      },
    };
    const chart = new Chart(ref.current as HTMLCanvasElement, {
      type: "scatter",
      data: {
        datasets: [
          gateSet("R1", GATE_R1, 0, 0), gateSet("R2", GATE_R2, 0, 0.3), gateSet("R3", GATE_R3, 0, 0.25),
          gateSet("Top edge", [20, 1031, TOP_EDGE_ENDS[index], 1031], 0, 0),
          scatterSet("R1 events", red, denseRed ? "#fff" : "#e01212", denseRed ? 0.7 : 1.8, 1),
          areaSet("R1 dense", denseRed ? RED_AREA : [], "#dc1010", 2, 0),
          scatterSet("R2 events", green, "#1fe81f", denseGreen ? 2.9 : 1.5, 2),
          scatterSet("R3 dense", core, PINK, p.coreR, 3),
          scatterSet("R3 dense edge", coreSmall, PINK, 2.6, 3),
          scatterSet("R3 core dots", PINK_CORE_DOTS.slice(0, counts[5] * 2), PINK, 1.5, 4),
          scatterSet("R3 band", band, PINK, 1.4, 4),
          scatterSet("R3 sparse", pink, PINK, 1.15, 4),
          scatterSet("R3 left", PINK_LEFT.slice(0, counts[2] * 2), PINK, 1.5, 4),
          scatterSet("R3 low", PINK_LOW.slice(0, counts[3] * 2), PINK, 1.3, 4),
          scatterSet("R3 wide", PINK_WIDE.slice(0, counts[4] * 2), PINK, 1.5, 4),
          areaSet("R1 fill", GATE_R1, "#fff", 5, 0), areaSet("R2 fill", GATE_R2, "#fff", 5, 0.3), areaSet("R3 fill", GATE_R3, "#fff", 5, 0.25),
          areaSet("Column", BLACK_AREA, "#000", 6, 0),
          scatterSet("Other events", black, "#000", 1.1, 6),
          scatterSet("Upper events", BLACK_UPPER.slice(0, counts[0] * 2), "#000", 1.1, 6),
          scatterSet("Lower events", BLACK_LOWER.slice(0, counts[1] * 2), "#000", 1.1, 6),
        ] as any,
      },
      options: {
        animation: false, responsive: false, events: [],
        layout: { padding: 0 },
        plugins: {
          legend: { display: false }, tooltip: { enabled: false },
          title: { display: true, text: TITLES[index], color: "#222", font: { family: FONT, size: titleSize, weight: "normal", lineHeight: 1 }, padding: { top: 0, bottom: p.gap - titleSize / 2 } },
        },
        scales: {
          x: {
            type: "linear", min: -11, max: 1035,
            afterBuildTicks: (s: any) => { s.ticks = X_TICKS.map((value) => ({ value })); },
            afterFit: (s: any) => { s.height = XH; },
            ticks: { autoSkip: false, maxRotation: 0, minRotation: 0, color: "#222", padding: 9.5, font: { family: FONT, size: tickSize, lineHeight: 1 }, callback: (v: any) => labels[X_TICKS.indexOf(v)] ?? "" },
            grid: { drawOnChartArea: false, drawTicks: true, tickLength: 6, tickColor: "#000", tickWidth: 1.2 },
            border: { display: true, color: "#000", width: 1.4 },
            title: { display: true, text: "Forward Scatter", color: "#222", font: { family: FONT, size: titleSize, lineHeight: 1 }, padding: { top: 0, bottom: XH - 40 * p.f - titleSize / 2 - 1 } },
          },
          y: {
            type: "linear", min: -11, max: 1034,
            afterBuildTicks: (s: any) => { s.ticks = Y_TICKS.map((value) => ({ value })); },
            afterFit: (s: any) => { s.width = ML; },
            ticks: { autoSkip: false, minRotation: 90, maxRotation: 90, crossAlign: "center", color: "#222", padding: -4 * p.f, font: { family: FONT, size: tickSize, lineHeight: 1 }, callback: (v: any) => String(v) },
            grid: { drawOnChartArea: false, drawTicks: true, tickLength: 6, tickColor: "#000", tickWidth: 1.2 },
            border: { display: true, color: "#000", width: 1.4 },
            title: { display: true, text: "Side Scatter", color: "#222", font: { family: FONT, size: titleSize, lineHeight: 1 }, padding: { top: ML - 39 * p.f - titleSize / 2, bottom: 0 } },
          },
          spacer: {
            type: "linear", position: "right", display: true,
            afterFit: (s: any) => { s.width = MR; },
            ticks: { display: false }, grid: { display: false }, border: { display: false },
          },
        },
      } as any,
      plugins: [plugin],
    } as any);
    return () => chart.destroy();
  }, []);
  return <canvas ref={ref} width={ML + p.w + MR} height={TH + p.h + XH} style={{ position: "absolute", left: p.l - ML, top: p.t - TH, filter: "blur(0.35px)" }} />;
}

function Cell({ right, y, size, children }: { right: number; y: number; size: number; children: React.ReactNode }) {
  return <div style={{ position: "absolute", left: right - 120, width: 120, top: y + 1 - size * 0.6, height: size * 1.2, lineHeight: `${size * 1.2}px`, textAlign: "right", fontFamily: FONT, fontSize: size, color: "#222", whiteSpace: "nowrap" }}>{children}</div>;
}

function Table({ index }: { index: number }) {
  const p = LAYOUT[index];
  const size = 17 * p.f;
  return (
    <>
      {TABLE_HEADERS.map((h, i) => <Cell key={h} right={p.heads[i]} y={p.rows[0]} size={size}>{h}</Cell>)}
      <div style={{ position: "absolute", left: p.rule[0], width: p.rule[1] - p.rule[0], top: p.rule[2] - 1, height: 2, background: "#333" }} />
      {REGIONS.map((r, i) => (
        <React.Fragment key={r}>
          <Cell right={p.regionRight} y={p.rows[i + 1]} size={size}>{r}</Cell>
          <Cell right={p.vals[0]} y={p.rows[i + 1]} size={size}>{EVENTS[index][i]}</Cell>
          <Cell right={p.vals[1]} y={p.rows[i + 1]} size={size}>{PERCENT[index][i]}</Cell>
          <Cell right={p.vals[2]} y={p.rows[i + 1]} size={size}>{PERCENT[index][i]}</Cell>
        </React.Fragment>
      ))}
    </>
  );
}

export default function App() {
  return (
    <div style={{ position: "absolute", left: 0, top: 0, width: 1276, height: 1319, overflow: "hidden", background: "#fff" }}>
      {LAYOUT.map((_, i) => <Panel key={i} index={i} />)}
      {LAYOUT.map((_, i) => <Table key={i} index={i} />)}
    </div>
  );
}
